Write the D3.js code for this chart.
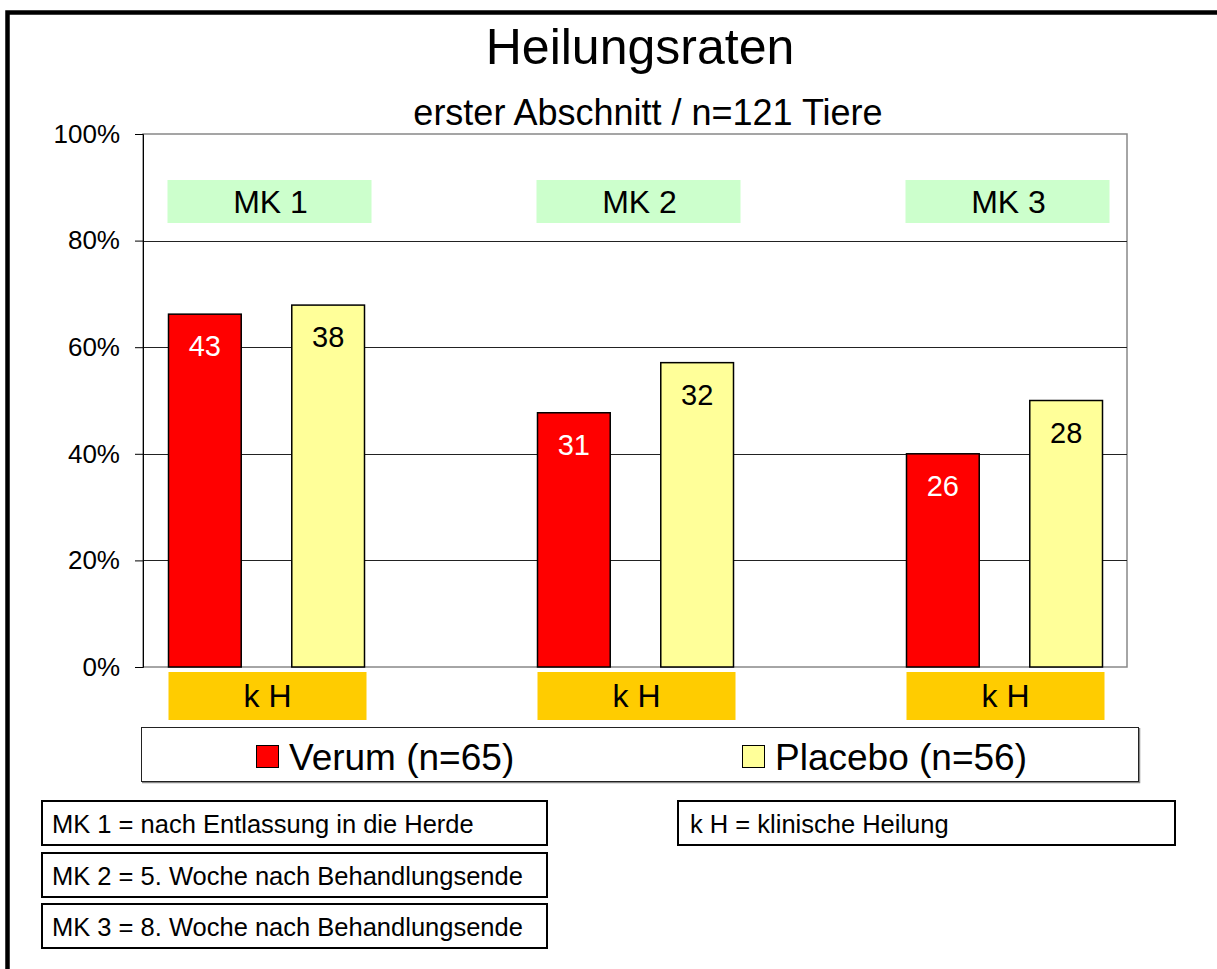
<!DOCTYPE html>
<html>
<head>
<meta charset="utf-8">
<script src="https://cdnjs.cloudflare.com/ajax/libs/d3/7.8.5/d3.min.js"></script>
<style>
    body { margin: 0; background: #fff; }
    svg { display: block; font-family: "Liberation Sans", Arial, sans-serif; }
</style>
</head>
<body>
<script>
var categories = ["MK 1", "MK 2", "MK 3"];
var seriesNames = ["Verum (n=65)", "Placebo (n=56)"];
var verumPct = [0.662, 0.477, 0.400];
var placeboPct = [0.679, 0.571, 0.500];
var verumCount = [43, 31, 26];
var placeboCount = [38, 32, 28];
var yTicks = [0, 0.2, 0.4, 0.6, 0.8, 1];
var notes = ["MK 1 = nach Entlassung in die Herde",
    "MK 2 = 5. Woche nach Behandlungsende",
    "MK 3 = 8. Woche nach Behandlungsende"];
var noteKH = "k H = klinische Heilung";

var width = 1217,
    height = 969;

var colors = ["#ff0000", "#ffff99"];
var labelColors = ["#ffffff", "#000000"];

var plot = { left: 143, right: 1127, top: 134, bottom: 667 };

var svg = d3.select("body").append("svg")
    .attr("width", width)
    .attr("height", height);

// outer frame (only top and left visible)
svg.append("path")
    .attr("d", "M7.5," + height + "V12.5H" + width)
    .attr("fill", "none")
    .attr("stroke", "#000")
    .attr("stroke-width", 4.5);

svg.append("text")
    .attr("x", 640)
    .attr("y", 64)
    .attr("text-anchor", "middle")
    .style("font-size", "50px")
    .text("Heilungsraten");

svg.append("text")
    .attr("x", 648)
    .attr("y", 125)
    .attr("text-anchor", "middle")
    .style("font-size", "36px")
    .text("erster Abschnitt / n=121 Tiere");

var y = d3.scaleLinear()
    .domain([0, 1])
    .range([plot.bottom, plot.top]);

var x0 = d3.scaleBand()
    .domain(categories)
    .range([82, 1189]);

var x1 = d3.scaleBand()
    .domain(seriesNames)
    .range([0, 196])
    .paddingInner(0.41);

function groupLeft(c) {
    return x0(c) + x0.bandwidth() / 2 - 98;
}

// plot area border
svg.append("rect")
    .attr("x", plot.left)
    .attr("y", plot.top)
    .attr("width", plot.right - plot.left)
    .attr("height", plot.bottom - plot.top)
    .attr("fill", "none")
    .attr("stroke", "#888")
    .attr("stroke-width", 1.5);

// gridlines
svg.selectAll("line.grid")
    .data(yTicks.filter(function(d) { return d > 0 && d < 1; }))
    .enter().append("line")
    .attr("class", "grid")
    .attr("x1", plot.left)
    .attr("x2", plot.right)
    .attr("y1", function(d) { return Math.round(y(d)) + 0.5; })
    .attr("y2", function(d) { return Math.round(y(d)) + 0.5; })
    .attr("stroke", "#222")
    .attr("stroke-width", 1);

var yAxis = svg.append("g")
    .attr("transform", "translate(" + plot.left + ",0)")
    .call(d3.axisLeft(y)
        .tickValues(yTicks)
        .tickSize(8)
        .tickPadding(15)
        .tickFormat(d3.format(".0%")));

yAxis.select(".domain").attr("stroke", "#000");
yAxis.selectAll(".tick line").attr("stroke", "#000");
yAxis.selectAll(".tick text")
    .style("font-size", "26px")
    .style("font-family", "'Liberation Sans', Arial, sans-serif")
    .attr("fill", "#000");

// green MK header boxes
var mkW = 204;
svg.selectAll("rect.mk")
    .data(categories)
    .enter().append("rect")
    .attr("class", "mk")
    .attr("x", function(d) { return x0(d) + x0.bandwidth() / 2 - mkW / 2 + 3; })
    .attr("y", 180)
    .attr("width", mkW)
    .attr("height", 43)
    .attr("fill", "#ccffcc");

svg.selectAll("text.mk")
    .data(categories)
    .enter().append("text")
    .attr("class", "mk")
    .attr("x", function(d) { return x0(d) + x0.bandwidth() / 2 + 4; })
    .attr("y", 213)
    .attr("text-anchor", "middle")
    .style("font-size", "32px")
    .text(function(d) { return d; });

var series = [
    { name: seriesNames[0], pct: verumPct, count: verumCount, i: 0 },
    { name: seriesNames[1], pct: placeboPct, count: placeboCount, i: 1 }
];

var bars = [];
series.forEach(function(s) {
    categories.forEach(function(c, j) {
        bars.push({ cat: c, name: s.name, value: s.pct[j], count: s.count[j], i: s.i });
    });
});

svg.selectAll("rect.bar")
    .data(bars)
    .enter().append("rect")
    .attr("class", "bar")
    .attr("x", function(d) { return groupLeft(d.cat) + x1(d.name); })
    .attr("y", function(d) { return y(d.value); })
    .attr("width", x1.bandwidth())
    .attr("height", function(d) { return y(0) - y(d.value); })
    .attr("fill", function(d) { return colors[d.i]; })
    .attr("stroke", "#000")
    .attr("stroke-width", 1.5);

svg.selectAll("text.bar")
    .data(bars)
    .enter().append("text")
    .attr("class", "bar")
    .attr("x", function(d) { return groupLeft(d.cat) + x1(d.name) + x1.bandwidth() / 2; })
    .attr("y", function(d) { return y(d.value) + 42; })
    .attr("text-anchor", "middle")
    .attr("fill", function(d) { return labelColors[d.i]; })
    .style("font-size", "29px")
    .text(function(d) { return d.count; });

// orange "k H" boxes under each group
svg.selectAll("rect.kh")
    .data(categories)
    .enter().append("rect")
    .attr("class", "kh")
    .attr("x", function(d) { return groupLeft(d); })
    .attr("y", 672)
    .attr("width", 198)
    .attr("height", 48)
    .attr("fill", "#ffcc00");

svg.selectAll("text.kh")
    .data(categories)
    .enter().append("text")
    .attr("class", "kh")
    .attr("x", function(d) { return groupLeft(d) + 99; })
    .attr("y", 707)
    .attr("text-anchor", "middle")
    .style("font-size", "32px")
    .text("k H");

// legend
var legend = svg.append("g");

legend.append("path")
    .attr("d", "M142,782H1139V728")
    .attr("fill", "none")
    .attr("stroke", "#888")
    .attr("stroke-width", 2.5);

legend.append("rect")
    .attr("x", 141.5)
    .attr("y", 727.5)
    .attr("width", 997)
    .attr("height", 54)
    .attr("fill", "#fff")
    .attr("stroke", "#222")
    .attr("stroke-width", 1);

var legendX = [256, 742];

legend.selectAll("rect.sw")
    .data(seriesNames)
    .enter().append("rect")
    .attr("class", "sw")
    .attr("x", function(d, i) { return legendX[i] + 0.5; })
    .attr("y", 745.5)
    .attr("width", 22)
    .attr("height", 22)
    .attr("fill", function(d, i) { return colors[i]; })
    .attr("stroke", "#000")
    .attr("stroke-width", 1);

legend.selectAll("text")
    .data(seriesNames)
    .enter().append("text")
    .attr("x", function(d, i) { return legendX[i] + 33; })
    .attr("y", 770)
    .style("font-size", "37px")
    .text(function(d) { return d; });

// explanation boxes
var noteY = [801, 853, 904];

svg.selectAll("rect.note")
    .data(notes)
    .enter().append("rect")
    .attr("class", "note")
    .attr("x", 42)
    .attr("y", function(d, i) { return noteY[i]; })
    .attr("width", 505)
    .attr("height", 44)
    .attr("fill", "none")
    .attr("stroke", "#000")
    .attr("stroke-width", 2);

svg.selectAll("text.note")
    .data(notes)
    .enter().append("text")
    .attr("class", "note")
    .attr("x", 52)
    .attr("y", function(d, i) { return noteY[i] + 32; })
    .style("font-size", "25.5px")
    .text(function(d) { return d; });

svg.append("rect")
    .attr("x", 678)
    .attr("y", 801)
    .attr("width", 497)
    .attr("height", 44)
    .attr("fill", "none")
    .attr("stroke", "#000")
    .attr("stroke-width", 2);

svg.append("text")
    .attr("x", 690)
    .attr("y", 833)
    .style("font-size", "25.5px")
    .text(noteKH);
</script>
</body>
</html>
